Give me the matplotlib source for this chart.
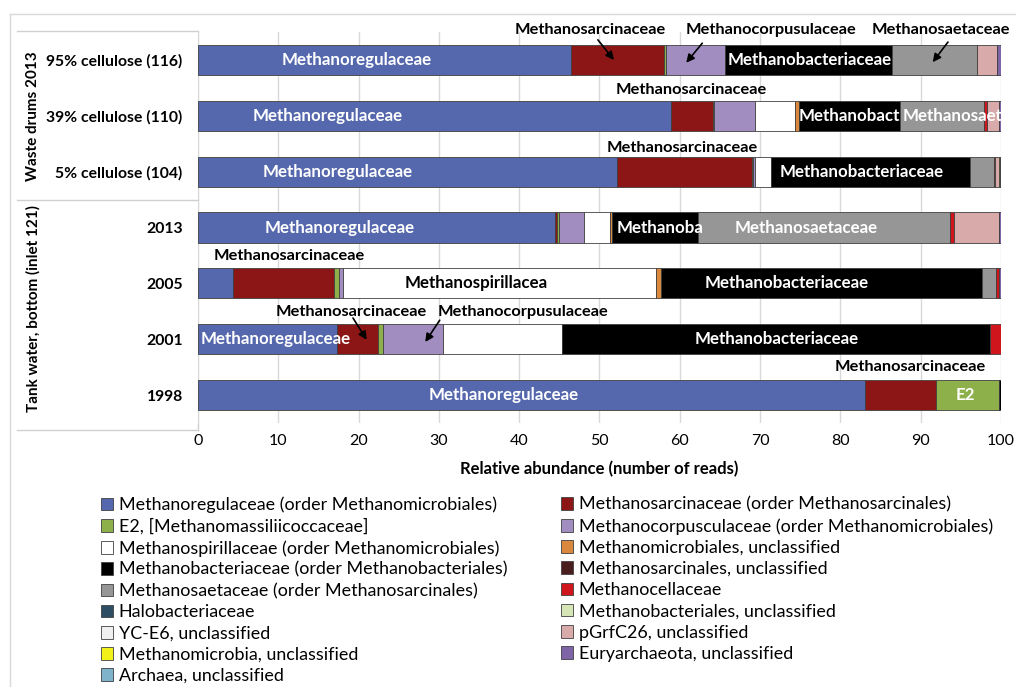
import numpy as np
import matplotlib.pyplot as plt
import matplotlib.transforms as mtransforms
from matplotlib.patches import Patch
from matplotlib.lines import Line2D

plt.rcParams['font.family'] = ['Lato', 'DejaVu Sans']

# samples, bottom to top
samples = ['1998', '2001', '2005', '2013',
           '5% cellulose (104)', '39% cellulose (110)', '95% cellulose (116)']

taxa = ['Methanoregulaceae (order Methanomicrobiales)',
        'Methanosarcinaceae (order Methanosarcinales)',
        'E2, [Methanomassiliicoccaceae]',
        'Methanocorpusculaceae (order Methanomicrobiales)',
        'Methanospirillaceae (order Methanomicrobiales)',
        'Methanomicrobiales, unclassified',
        'Methanobacteriaceae (order Methanobacteriales)',
        'Methanosarcinales, unclassified',
        'Methanosaetaceae (order Methanosarcinales)',
        'Methanocellaceae',
        'Halobacteriaceae',
        'Methanobacteriales, unclassified',
        'YC-E6, unclassified',
        'pGrfC26, unclassified',
        'Methanomicrobia, unclassified',
        'Euryarchaeota, unclassified',
        'Archaea, unclassified']

colors = ['#5568AD', '#8C1515', '#8DB04A', '#A18DBF', '#FFFFFF', '#D9883E',
          '#000000', '#4A1E1E', '#969696', '#D0161C', '#2E4F63', '#D5E5B5',
          '#EFEFEF', '#D8AAAA', '#F2F21A', '#7F64A8', '#7FB3CC']

# relative abundance (%) per taxon, one value per sample (same order as samples)
methanoregulaceae     = [83.1, 17.3, 4.4, 44.5, 52.2, 58.9, 46.5]
methanosarcinaceae    = [8.8, 5.1, 12.5, 0.25, 16.8, 5.2, 11.5]
e2                    = [7.9, 0.7, 0.6, 0.15, 0.1, 0.2, 0.3]
methanocorpusculaceae = [0.0, 7.4, 0.6, 3.2, 0.3, 5.1, 7.3]
methanospirillaceae   = [0.0, 14.8, 38.9, 3.2, 1.9, 5.0, 0.0]
methanomicrobiales_u  = [0.0, 0.0, 0.7, 0.3, 0.0, 0.4, 0.0]
methanobacteriaceae   = [0.2, 53.3, 39.9, 10.7, 24.9, 12.6, 20.8]
methanosarcinales_u   = [0.0, 0.0, 0.0, 0.0, 0.0, 0.0, 0.0]
methanosaetaceae      = [0.0, 0.0, 1.8, 31.35, 2.9, 10.5, 10.6]
methanocellaceae      = [0.0, 1.4, 0.3, 0.45, 0.2, 0.3, 0.0]
halobacteriaceae      = [0.0, 0.0, 0.0, 0.0, 0.0, 0.0, 0.0]
methanobacteriales_u  = [0.0, 0.0, 0.0, 0.0, 0.0, 0.0, 0.0]
yc_e6                 = [0.0, 0.0, 0.0, 0.0, 0.0, 0.0, 0.0]
pgrfc26               = [0.0, 0.0, 0.0, 5.7, 0.4, 1.55, 2.5]
methanomicrobia_u     = [0.0, 0.0, 0.0, 0.0, 0.2, 0.0, 0.0]
euryarchaeota_u       = [0.0, 0.0, 0.3, 0.2, 0.1, 0.25, 0.5]
archaea_u             = [0.0, 0.0, 0.0, 0.0, 0.0, 0.0, 0.0]

values = np.array([methanoregulaceae, methanosarcinaceae, e2, methanocorpusculaceae,
                   methanospirillaceae, methanomicrobiales_u, methanobacteriaceae,
                   methanosarcinales_u, methanosaetaceae, methanocellaceae,
                   halobacteriaceae, methanobacteriales_u, yc_e6, pgrfc26,
                   methanomicrobia_u, euryarchaeota_u, archaea_u])

fig = plt.figure(figsize=(10.16, 6.87), dpi=100)
ax = fig.add_axes([0.1949, 0.3843, 0.7903, 0.5691])

y = np.arange(len(samples))
left = np.zeros(len(samples))
for vals, col in zip(values, colors):
    ax.barh(y, vals, left=left, height=0.54, color=col,
            edgecolor='#404040', linewidth=0.6, zorder=3)
    left += vals

ax.set_xlim(0, 100)
ax.set_ylim(-0.5, 6.5)
ax.set_xticks(np.arange(0, 101, 10))
ax.set_yticks(y)
ax.set_yticklabels(samples, fontweight='bold', fontsize=11.3)
ax.tick_params(axis='both', length=0)
ax.tick_params(axis='x', labelsize=11.5, pad=8)
ax.tick_params(axis='y', pad=11)
ax.xaxis.grid(True, color='#D9D9D9', linewidth=1, zorder=0)
for s in ['top', 'right', 'bottom']:
    ax.spines[s].set_visible(False)
ax.spines['left'].set_color('#D9D9D9')
ax.set_xlabel('Relative abundance (number of reads)', fontweight='bold',
              fontsize=12, labelpad=9)

# group boxes beside the sample labels
trans = mtransforms.blended_transform_factory(ax.transAxes, ax.transData)
for yy in [6.52, 3.5, -0.62]:
    ax.add_line(Line2D([-0.225, 0], [yy, yy], transform=trans, color='#D0D0D0',
                       linewidth=1, clip_on=False))
ax.add_line(Line2D([0, 0], [-0.62, -0.5], transform=trans, color='#D0D0D0',
                   linewidth=1, clip_on=False))
ax.text(-0.205, 5.0, 'Waste drums 2013', transform=trans, rotation=90,
        ha='center', va='center', fontweight='bold', fontsize=11)
ax.text(-0.205, 1.55, 'Tank water, bottom (inlet 121)', transform=trans, rotation=90,
        ha='center', va='center', fontweight='bold', fontsize=11)

# labels inside the bars
inside = [('Methanoregulaceae', 19.8, 6, 'white', 'center'),
          ('Methanoregulaceae', 16.1, 5, 'white', 'center'),
          ('Methanoregulaceae', 17.4, 4, 'white', 'center'),
          ('Methanoregulaceae', 17.7, 3, 'white', 'center'),
          ('Methanoregulaceae', 0.3, 1, 'white', 'left'),
          ('Methanoregulaceae', 38.1, 0, 'white', 'center'),
          ('Methanobacteriaceae', 76.2, 6, 'white', 'center'),
          ('Methanobacteriaceae', 82.7, 4, 'white', 'center'),
          ('Methanobacteriaceae', 73.3, 2, 'white', 'center'),
          ('Methanobacteriaceae', 72.1, 1, 'white', 'center'),
          ('Methanobact', 74.8, 5, 'white', 'left'),
          ('Methanosaet', 87.8, 5, 'white', 'left'),
          ('Methanoba', 52.1, 3, 'white', 'left'),
          ('Methanosaetaceae', 75.8, 3, 'white', 'center'),
          ('Methanospirillacea', 34.7, 2, 'black', 'center'),
          ('E2', 95.6, 0, 'white', 'center')]
for txt, xx, yy, col, ha in inside:
    ax.text(xx, yy, txt, color=col, ha=ha, va='center', fontweight='bold',
            fontsize=12.2, zorder=5)

# labels above the bars
above = [('Methanosarcinaceae', 48.8, 6.54), ('Methanocorpusulaceae', 71.4, 6.54),
         ('Methanosaetaceae', 92.5, 6.54), ('Methanosarcinaceae', 61.4, 5.46),
         ('Methanosarcinaceae', 60.3, 4.42), ('Methanosarcinaceae', 11.3, 2.49),
         ('Methanosarcinaceae', 19.1, 1.49), ('Methanocorpusulaceae', 40.5, 1.49),
         ('Methanosarcinaceae', 88.7, 0.5)]
for txt, xx, yy in above:
    ax.text(xx, yy, txt, ha='center', va='center', fontweight='bold',
            fontsize=11.8, zorder=5)

arrows = [((49.8, 6.36), (51.8, 6.0)), ((62.8, 6.30), (60.8, 5.95)),
          ((93.4, 6.32), (91.5, 5.96)), ((19.3, 1.38), (21.0, 0.99)),
          ((30.1, 1.34), (28.3, 0.95))]
for start, end in arrows:
    ax.annotate('', xy=end, xytext=start, zorder=6, annotation_clip=False,
                arrowprops=dict(arrowstyle='-|>', color='black', lw=1.2,
                                mutation_scale=12, shrinkA=0, shrinkB=0))

# legend in two columns, filled row by row
handles = [Patch(facecolor=c, edgecolor='#404040', linewidth=0.6) for c in colors]
leg_kw = dict(frameon=False, fontsize=12.9, handlelength=0.7, handleheight=0.7,
              handletextpad=0.3, labelspacing=0.29, borderaxespad=0, borderpad=0)
leg1 = fig.legend(handles[0::2], taxa[0::2], loc='upper left',
                  bbox_to_anchor=(0.099, 0.277), **leg_kw)
leg2 = fig.legend(handles[1::2], taxa[1::2], loc='upper left',
                  bbox_to_anchor=(0.552, 0.277), **leg_kw)

# outer chart border
fig.add_artist(Line2D([10 / 1016, 10 / 1016], [0, 1 - 14 / 687], color='#D9D9D9',
                      linewidth=1, transform=fig.transFigure))
fig.add_artist(Line2D([10 / 1016, 1], [1 - 14 / 687, 1 - 14 / 687], color='#D9D9D9',
                      linewidth=1, transform=fig.transFigure))

fig.savefig('out.png', dpi=100)
